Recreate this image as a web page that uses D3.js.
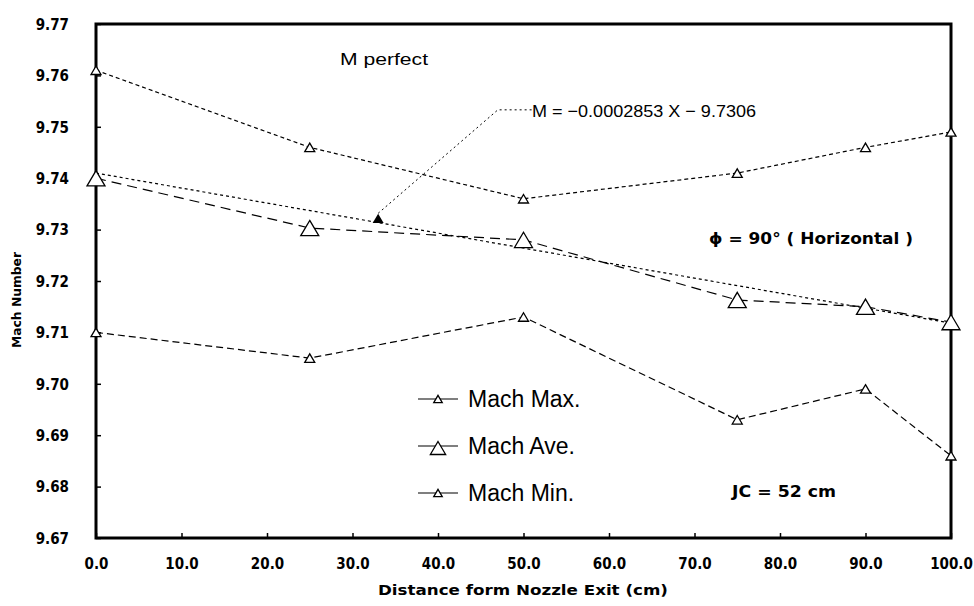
<!DOCTYPE html>
<html>
<head>
<meta charset="utf-8">
<title>Mach number vs distance</title>
<style>
body{margin:0;background:#fff;}
text{fill:#000;}
.tk{font-family:"DejaVu Sans Condensed","Liberation Sans Narrow","Roboto Condensed",sans-serif;font-stretch:condensed;font-weight:bold;font-size:15px;}
</style>
</head>
<body>
<div id="chart"></div>
<script src="https://cdn.jsdelivr.net/npm/d3@7"></script>
<script>
// data
var dist = [0, 25, 50, 75, 90, 100];
var machMax = [9.761, 9.746, 9.736, 9.741, 9.746, 9.749];
var machAve = [9.740, 9.7303, 9.728, 9.7163, 9.715, 9.712];
var machMin = [9.710, 9.705, 9.713, 9.693, 9.699, 9.686];
var fitX = [0, 100];
var fitM = [9.7410, 9.7118];
var xTicks = [0,10,20,30,40,50,60,70,80,90,100];
var yTicks = [9.67,9.68,9.69,9.70,9.71,9.72,9.73,9.74,9.75,9.76,9.77];

var W = 974, H = 606;
var m = {left:96, right:23, top:24, bottom:68};

var svg = d3.select("#chart").append("svg")
  .attr("width", W).attr("height", H);

var x = d3.scaleLinear().domain([0,100]).range([m.left, W-m.right]);
var y = d3.scaleLinear().domain([9.67,9.77]).range([H-m.bottom, m.top]);

// axes with inward ticks
var xAxis = svg.append("g").attr("transform","translate(0,"+(H-m.bottom)+")")
  .call(d3.axisBottom(x).tickValues(xTicks).tickSizeInner(-5).tickSizeOuter(0)
    .tickFormat(d3.format(".1f")).tickPadding(20));
var yAxis = svg.append("g").attr("transform","translate("+m.left+",0)")
  .call(d3.axisLeft(y).tickValues(yTicks).tickSizeInner(-5).tickSizeOuter(0)
    .tickFormat(d3.format(".2f")).tickPadding(27));
[xAxis, yAxis].forEach(function(a){
  a.select(".domain").remove();
  a.selectAll("line").attr("stroke","#000").attr("stroke-width",1.5);
  a.selectAll("text").attr("class","tk").attr("fill",null);
});
yAxis.selectAll("text").attr("dy","0.35em");

// frame
svg.append("rect")
  .attr("x", m.left).attr("y", m.top)
  .attr("width", W-m.left-m.right).attr("height", H-m.top-m.bottom)
  .attr("fill","none").attr("stroke","#000").attr("stroke-width",3);

var line = d3.line().x(function(d){return x(d[0]);}).y(function(d){return y(d[1]);});
function pairs(vals){ return dist.map(function(d,i){ return [d, vals[i]]; }); }

// fit line
svg.append("path")
  .datum(fitX.map(function(d,i){return [d, fitM[i]];}))
  .attr("d", line).attr("fill","none").attr("stroke","#000")
  .attr("stroke-width",1.2).attr("stroke-dasharray","3,3");

var series = [
  {name:"Mach Max.", vals:machMax, dash:"4,3", size:10},
  {name:"Mach Ave.", vals:machAve, dash:"10,6", size:18},
  {name:"Mach Min.", vals:machMin, dash:"7,4", size:10}
];

function tri(s){
  var h = s*0.85;
  return "M0,"+(-h/2)+"L"+(s/2)+","+(h/2)+"L"+(-s/2)+","+(h/2)+"Z";
}

series.forEach(function(s){
  svg.append("path").datum(pairs(s.vals))
    .attr("d", line).attr("fill","none").attr("stroke","#000")
    .attr("stroke-width",1.2).attr("stroke-dasharray", s.dash);
  svg.selectAll(null).data(pairs(s.vals)).enter().append("path")
    .attr("d", tri(s.size))
    .attr("transform", function(d){return "translate("+x(d[0])+","+y(d[1])+")";})
    .attr("fill","#fff").attr("stroke","#000").attr("stroke-width",1.3);
});

// fit annotation: marker and leader
var fx = 33, fy = 9.7320;
svg.append("path").attr("d", tri(11))
  .attr("transform","translate("+x(fx)+","+(y(fy)-1)+")").attr("fill","#000");
svg.append("path")
  .attr("d","M"+x(fx)+","+(y(fy)-6)+"L"+x(47)+","+y(9.7533)+"L"+x(51)+","+y(9.7533))
  .attr("fill","none").attr("stroke","#000").attr("stroke-width",1).attr("stroke-dasharray","2,3");

function note(txt, tx, ty, len, size, bold){
  svg.append("text").attr("x", tx).attr("y", ty).attr("dy","0.35em")
    .attr("class", bold ? "tk" : null)
    .style("font-family", bold ? null : "'Liberation Sans',Arial,sans-serif")
    .style("font-size", size+"px")
    .attr("textLength", len).attr("lengthAdjust","spacingAndGlyphs")
    .text(txt);
}
note("M = \u22120.0002853 X \u2212 9.7306", 532, 111, 224, 17, false);
note("M perfect", 340, 59, 88, 17, false);
note("\u03D5  =  90\u00B0 ( Horizontal )", 709, 239, 204, 15, true);
note("JC  =  52  cm", 732, 492, 104, 15, true);

// legend
var lg = svg.append("g").attr("transform","translate(418,399)");
series.forEach(function(s,i){
  var g = lg.append("g").attr("transform","translate(0,"+(i*47)+")");
  g.append("line").attr("x1",0).attr("x2",40).attr("y1",0).attr("y2",0)
    .attr("stroke","#000").attr("stroke-width",1.2);
  g.append("path").attr("d", tri(s.size*0.85)).attr("transform","translate(20,"+(s.size>12?2:0)+")")
    .attr("fill","#fff").attr("stroke","#000").attr("stroke-width",1.3);
  g.append("text").attr("x",50).attr("y",0).attr("dy","0.35em")
    .style("font-family","'Liberation Sans',Arial,sans-serif").style("font-size","23px")
    .text(s.name);
});

// axis titles
svg.append("text").attr("x", 378).attr("y", 595)
  .attr("class","tk").style("font-size","14px")
  .attr("textLength", 290).attr("lengthAdjust","spacingAndGlyphs")
  .text("Distance form Nozzle Exit (cm)");
svg.append("text").attr("transform","translate(21,300) rotate(-90)")
  .attr("x", -48).attr("class","tk").style("font-size","13px")
  .attr("textLength", 96).attr("lengthAdjust","spacingAndGlyphs")
  .text("Mach Number");
</script>
</body>
</html>
